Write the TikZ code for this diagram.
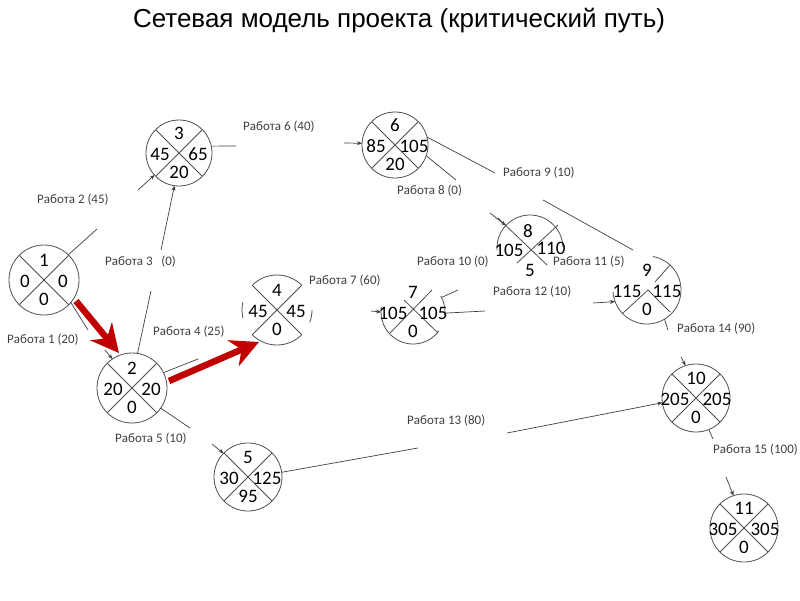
\documentclass[tikz,border=0pt]{standalone}
\usepackage{fontspec}
\setmainfont{Carlito}
\newfontfamily\titlefont{Liberation Sans}
\usetikzlibrary{arrows.meta}
\definecolor{circ}{HTML}{505050}
\definecolor{linec}{HTML}{404040}
\definecolor{lblc}{HTML}{404040}
\definecolor{critred}{HTML}{C00000}
\newcommand\evlabels[6]{%
  \node[num] (#1t) at ([shift={(0,-20)}]#1.center) {#2};
  \node[num] (#1l) at ([shift={(-#6,1)}]#1.center) {#3};
  \node[num] (#1r) at ([shift={(#6,1)}]#1.center) {#4};
  \node[num] (#1b) at ([shift={(0,19)}]#1.center) {#5};}
\newcommand\evcross[1]{\draw[circline] (#1.45) -- (#1.225) (#1.135) -- (#1.315);}
\begin{document}
\begin{tikzpicture}[x=1pt,y=-1pt,
  ev/.style={circle, minimum size=#1, inner sep=0pt, outer sep=0pt, draw=circ, line width=0.8pt},
  ev/.default=70pt,
  evn/.style={circle, minimum size=#1, inner sep=0pt, outer sep=0pt, draw=none},
  evn/.default=70pt,
  circline/.style={draw=circ, line width=0.8pt},
  num/.style={font=\fontsize{19}{19}\selectfont, inner sep=0pt, text height=12.5pt, text depth=0pt},
  lbl/.style={font=\fontsize{13}{13}\selectfont, text=lblc, anchor=west, inner sep=0pt},
  con/.style={draw=linec, line width=0.7pt},
  arr/.style={con, -{Stealth[length=5pt,width=4pt]}},
  crit/.style={draw=critred, line width=6.5pt, -{Stealth[length=28pt,width=28pt,inset=9pt]}}
]
\useasboundingbox (0,0) rectangle (800,600);
\fill[white] (0,0) rectangle (800,600);

\node[font=\titlefont\fontsize{26}{26}\selectfont, inner sep=0pt] (title) at (399,21) {Сетевая модель проекта (критический путь)};

% events
\node[ev=70pt] (n1) at (44,280) {};
\node[ev=70pt] (n2) at (132,388) {};
\node[ev=66pt] (n3) at (179,153) {};
\node[evn=70pt] (n4) at (277,310) {};
\node[ev=68pt] (n5) at (248,477) {};
\node[ev=66pt] (n6) at (395,145) {};
\node[evn=64pt] (n7) at (413,312) {};
\node[evn=66pt] (n8) at (530,248) {};
\node[evn=68pt] (n9) at (647,290) {};
\node[ev=68pt] (n10) at (696,398) {};
\node[ev=68pt] (n11) at (744,528) {};

\evcross{n1} \evcross{n2} \evcross{n3} \evcross{n4} \evcross{n5}
\evcross{n6} \evcross{n10} \evcross{n11}

% partial outlines
\draw[circline] (n4.center) ++(225:35) arc[start angle=225, end angle=315, radius=35];
\draw[circline] (n4.center) ++(167:35) arc[start angle=167, end angle=193, radius=35];
\draw[circline] (n4.center) ++(45:35) arc[start angle=45, end angle=135, radius=35];
\draw[circline] (n4.center) ++(0:35) arc[start angle=0, end angle=21, radius=35];
\draw[circline] (n7.center) ++(36:32) arc[start angle=36, end angle=189, radius=32];
\draw[circline] (n7.center) ++(-30:32) arc[start angle=-30, end angle=5, radius=32];
\draw[circline] (390,333) -- (432,290) (404,300) -- (438,333);
\draw[circline] (n8.center) ++(176:33) arc[start angle=176, end angle=358, radius=33];
\draw[circline] (498,218) -- (547,265) (558,225) -- (517,263);
\draw[circline] (n9.center) ++(-80:34) arc[start angle=-80, end angle=177, radius=34];
\draw[circline] (623,313) -- (648,290) -- (670,312) (655,282) -- (670,265);

% numbers
\evlabels{n1}{1}{0}{0}{0}{19}
\evlabels{n2}{2}{20}{20}{0}{19}
\evlabels{n3}{3}{45}{65}{20}{19}
\evlabels{n4}{4}{45}{45}{0}{19}
\evlabels{n5}{5}{30}{125}{95}{19}
\evlabels{n6}{6}{85}{105}{20}{19}
\evlabels{n7}{7}{105}{105}{0}{20}
\node[num] (n8t) at (528,231) {8};
\node[num] (n8l) at (509,250) {105};
\node[num] (n8r) at (551,248) {110};
\node[num] (n8b) at (530,270) {5};
\evlabels{n9}{9}{115}{115}{0}{20}
\evlabels{n10}{10}{205}{205}{0}{21}
\evlabels{n11}{11}{305}{305}{0}{21}

% critical arrows
\coordinate (r1s) at (76,301); \coordinate (r1e) at (119,353);
\draw[crit] (r1s) -- (r1e);
\coordinate (r2s) at (169,381); \coordinate (r2e) at (259,342);
\draw[crit] (r2s) -- (r2e);

% works
\coordinate (w1a) at (88,330); \draw[con] (n1.-40) -- (w1a);
\coordinate (w1b) at (105,350); \draw[arr] (w1b) -- (n2.124);
\coordinate (w2a) at (97,229); \draw[con] (n1.46) -- (w2a);
\coordinate (w2b) at (138,190); \draw[arr] (w2b) -- (n3.222);
\coordinate (w3a) at (151,291); \draw[con] (n2.81) -- (w3a);
\coordinate (w3b) at (161,250); \draw[arr] (w3b) -- (n3.-98);
\coordinate (w4a) at (198,359); \draw[con] (n2.26) -- (w4a);
\coordinate (w5a) at (190,428); \draw[con] (n2.-35) -- (w5a);
\coordinate (w5b) at (212,444); \draw[arr] (w5b) -- (n5.136);
\coordinate (w6a) at (236,146); \draw[con] (n3.12) -- (w6a);
\coordinate (w6b) at (344,143); \draw[arr] (w6b) -- (n6.177);
\coordinate (w7b) at (371,311); \draw[arr] (w7b) -- (n7.180);
\coordinate (w8a) at (456,180); \draw[con] (n6.-19) -- (w8a);
\coordinate (w8b) at (490,213); \draw[arr] (w8b) -- (n8.137);
\coordinate (w9a) at (495,173); \draw[con] (n6.14) -- (w9a);
\coordinate (w9b) at (543,200); \coordinate (w9c) at (633,250); \draw[con] (w9b) -- (w9c);
\coordinate (w10a) at (458,290); \draw[con] (n7.27) -- (w10a);
\coordinate (w12a) at (485,311); \draw[con] (n7.-2) -- (w12a);
\coordinate (w12b) at (593,303); \draw[arr] (w12b) -- (n9.200);
\coordinate (w13a) at (418,448); \draw[con] (n5.8) -- (w13a);
\coordinate (w13b) at (507,433); \draw[arr] (w13b) -- (n10.188);
\coordinate (w14a) at (668,330); \draw[con] (n9.-59) -- (w14a);
\coordinate (w14b) at (681,357); \draw[arr] (w14b) -- (n10.108);
\coordinate (w15a) at (713,439); \draw[con] (n10.-68) -- (w15a);
\coordinate (w15b) at (726,477); \draw[arr] (w15b) -- (n11.108);

% labels
\node[lbl] (l1) at (7,340) {Работа 1 (20)};
\node[lbl] (l2) at (37,200) {Работа 2 (45)};
\node[lbl] (l3) at (105,262) {Работа 3 \ \ (0)};
\node[lbl] (l4) at (153,332) {Работа 4 (25)};
\node[lbl] (l5) at (115,439) {Работа 5 (10)};
\node[lbl] (l6) at (243,127) {Работа 6 (40)};
\node[lbl] (l7) at (309,281) {Работа 7 (60)};
\node[lbl] (l8) at (397,191) {Работа 8 (0)};
\node[lbl] (l9) at (503,173) {Работа 9 (10)};
\node[lbl] (l10) at (417,262) {Работа 10 (0)};
\node[lbl] (l11) at (553,262) {Работа 11 (5)};
\node[lbl] (l12) at (493,292) {Работа 12 (10)};
\node[lbl] (l13) at (407,421) {Работа 13 (80)};
\node[lbl] (l14) at (677,329) {Работа 14 (90)};
\node[lbl] (l15) at (713,450) {Работа 15 (100)};
\end{tikzpicture}
\end{document}
